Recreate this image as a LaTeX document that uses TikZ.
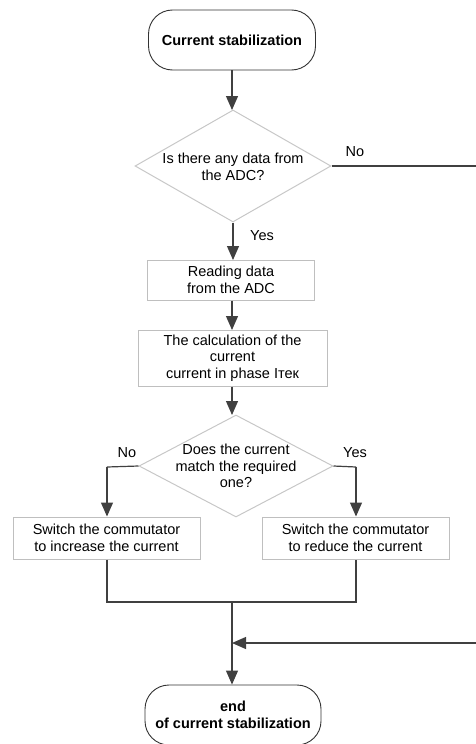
\documentclass[tikz,border=0pt]{standalone}
\usepackage{fontspec}
\setmainfont{Liberation Sans}
\usetikzlibrary{shapes.geometric,arrows.meta}
\begin{document}
\begin{tikzpicture}[x=1pt,y=-1pt,
  every node/.style={font=\fontsize{14.5}{16.5}\selectfont, text=black},
  term/.style={draw=black!80, line width=0.9pt, rounded corners=24pt, align=center, inner sep=0pt, font=\bfseries\fontsize{14.5}{17}\selectfont},
  procbox/.style={draw=black!25, line width=1pt, align=center, inner sep=0pt},
  dia/.style={draw=black!22, line width=1pt, shape=diamond, inner sep=0pt},
  conn/.style={draw=black!75, line width=1.2pt},
  arr/.style={conn, -{Triangle[length=14pt,width=12pt]}},
  lbl/.style={inner sep=0pt}]
\useasboundingbox (0,0) rectangle (476,744);
\clip (0,0) rectangle (476,744);
\node[term, minimum width=167pt, minimum height=60pt] (start) at (232,40) {Current stabilization};
\node[dia, minimum width=196pt, minimum height=112pt] (d1) at (233,166) {};
\node[align=center, inner sep=0pt] (d1t) at (233,167) {Is there any data from\\the ADC?};
\node[procbox, minimum width=167pt, minimum height=40pt] (read) at (231,280) {Reading data\\from the ADC};
\node[procbox, minimum width=189pt, minimum height=56pt] (calc) at (232.5,358) {The calculation of the\\current\\current in phase Iтек};
\node[dia, minimum width=194pt, minimum height=102pt] (d2) at (236,466) {};
\node[align=center, inner sep=0pt] (d2t) at (236,466) {Does the current\\match the required\\one?};
\node[procbox, minimum width=187pt, minimum height=42pt] (inc) at (106.5,538) {Switch the commutator\\to increase the current};
\node[procbox, minimum width=187pt, minimum height=42pt] (red) at (355.5,538) {Switch the commutator\\to reduce the current};
\node[term, minimum width=176pt, minimum height=60pt] (end) at (233,715) {end\\of current stabilization};
\coordinate (noR) at (476,166);
\coordinate (back) at (476,643);
\coordinate (mj) at (232,643);
\coordinate (lj) at (107,602);
\coordinate (rj) at (356,602);
\coordinate (cj) at (232,602);
\coordinate (lc) at (107,467);
\coordinate (rc) at (356,467);
% connectors
\draw[arr] (start.south -| 232,0) -- (232,110);
\draw[conn] (d1.east) -- (noR);
\node[lbl] (no1) at (355,152) {No};
\draw[arr] (d1.south) -- (233,260);
\node[lbl] (yes1) at (262,236) {Yes};
\draw[arr] (read.south -| 232,0) -- (232,330);
\draw[arr] (calc.south -| 232,0) -- (232,415);
\draw[conn] (d2.west) -- (lc);
\draw[arr] (lc) -- (inc.north -| lc);
\node[lbl] (no2) at (127,453) {No};
\draw[conn] (d2.east) -- (rc);
\draw[arr] (rc) -- (red.north -| rc);
\node[lbl] (yes2) at (355,453) {Yes};
\draw[conn] (inc.south -| lj) -- (lj) -- (rj) -- (red.south -| rj);
\draw[arr] (cj) -- (end.north -| cj);
\draw[arr] (back) -- (mj);
\end{tikzpicture}
\end{document}
